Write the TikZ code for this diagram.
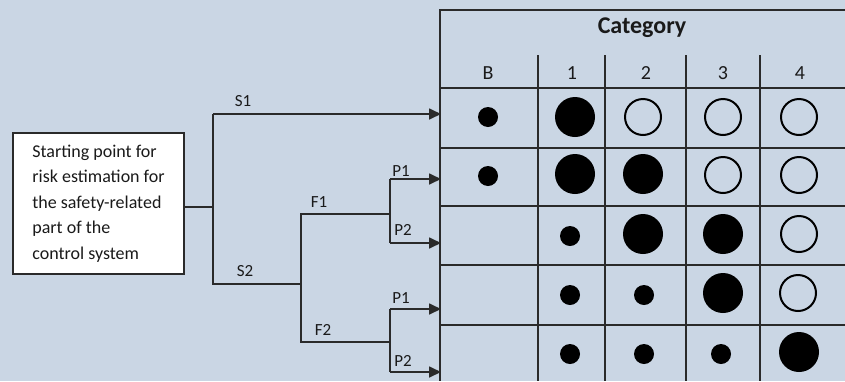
\documentclass[tikz,border=0pt]{standalone}
\usepackage{fontspec}
\setmainfont{Carlito}
\usetikzlibrary{arrows.meta}
\definecolor{bg}{HTML}{CAD6E4}
\definecolor{ln}{HTML}{2A2A2A}
\definecolor{tx}{HTML}{1A1A1A}
\begin{document}
\begin{tikzpicture}[x=1pt,y=-1pt,
  tbl/.style={draw=ln,line width=1.7pt},
  tree/.style={draw=ln,line width=1.7pt},
  arr/.style={tree,-{Triangle[length=12pt,width=11pt]},shorten >=-1pt},
  lbl/.style={font=\fontsize{17}{19}\selectfont,text=tx,inner sep=1pt},
  hd/.style={font=\fontsize{20}{22}\selectfont,text=tx,inner sep=1pt},
  sdot/.style={circle,fill=black,minimum size=20pt,inner sep=0pt},
  bdot/.style={circle,fill=black,minimum size=40pt,inner sep=0pt},
  odot/.style={circle,draw=black,line width=2pt,minimum size=36pt,inner sep=0pt},
  startbox/.style={draw=ln,line width=1.4pt,fill=white,inner xsep=17pt,minimum width=171pt,
    minimum height=141pt,align=left,text=tx,font=\fontsize{18}{25.5}\selectfont}]
\fill[bg] (0,0) rectangle (845,381);
\useasboundingbox (0,0) rectangle (845,381);
% table
\draw[tbl] (845,10) -- (440,10) -- (440,381);
\foreach \y in {88,148,206,265,325} \draw[tbl] (440,\y) -- (845,\y);
\foreach \x in {538,605,686,760} \draw[tbl] (\x,55) -- (\x,381);
\node[font=\bfseries\fontsize{24}{26}\selectfont,text=tx] (cat) at (642,28) {Category};
\node[hd] (hB) at (488,73) {B};
\node[hd] (h1) at (572,73) {1};
\node[hd] (h2) at (646,73) {2};
\node[hd] (h3) at (723,73) {3};
\node[hd] (h4) at (800,73) {4};
% row 1
\node[sdot] (r1b) at (488,117) {};
\node[bdot] (r11) at (575,117) {};
\node[odot] (r12) at (643,117) {};
\node[odot] (r13) at (723,117) {};
\node[odot] (r14) at (799,117) {};
% row 2
\node[sdot] (r2b) at (488,176) {};
\node[bdot] (r21) at (575,174) {};
\node[bdot] (r22) at (643,174) {};
\node[odot] (r23) at (723,175) {};
\node[odot] (r24) at (799,175) {};
% row 3
\node[sdot] (r31) at (570,236) {};
\node[bdot] (r32) at (643,234) {};
\node[bdot] (r33) at (723,234) {};
\node[odot] (r34) at (799,234) {};
% row 4
\node[sdot] (r41) at (570,295) {};
\node[sdot] (r42) at (644,295) {};
\node[bdot] (r43) at (723,293) {};
\node[odot] (r44) at (798,293) {};
% row 5
\node[sdot] (r51) at (570,354) {};
\node[sdot] (r52) at (644,354) {};
\node[sdot] (r53) at (721,354) {};
\node[bdot] (r54) at (799,352) {};
% start box
\node[startbox] (start) at (98.5,203.5) {Starting point for\\risk estimation for\\the safety-related\\part of the\\control system};
% tree coordinates
\coordinate (j0) at (213,207);
\coordinate (s1a) at (213,114);
\coordinate (s1e) at (440,114);
\coordinate (s2a) at (213,284);
\coordinate (s2b) at (301,284);
\coordinate (f1a) at (301,214);
\coordinate (f1b) at (390,214);
\coordinate (f2a) at (301,342);
\coordinate (f2b) at (390,342);
\coordinate (p11a) at (390,179);
\coordinate (p11e) at (440,179);
\coordinate (p12a) at (390,243);
\coordinate (p12e) at (440,243);
\coordinate (p21a) at (390,309);
\coordinate (p21e) at (440,309);
\coordinate (p22a) at (390,372);
\coordinate (p22e) at (440,372);
\draw[tree] (start.east |- j0) -- (j0);
\draw[tree] (s1a) -- (s2a) -- (s2b);
\draw[arr] (s1a) -- (s1e);
\draw[tree] (f1b) -- (f1a) -- (f2a) -- (f2b);
\draw[tree] (p11a) -- (p12a);
\draw[tree] (p21a) -- (p22a);
\draw[arr] (p11a) -- (p11e);
\draw[arr] (p12a) -- (p12e);
\draw[arr] (p21a) -- (p21e);
\draw[arr] (p22a) -- (p22e);
% labels
\node[lbl] (ls1) at (243,101) {S1};
\node[lbl] (ls2) at (245,271) {S2};
\node[lbl] (lf1) at (319,202) {F1};
\node[lbl] (lf2) at (323,330) {F2};
\node[lbl] (lp11) at (401,171) {P1};
\node[lbl] (lp12) at (403,230) {P2};
\node[lbl] (lp21) at (401,298) {P1};
\node[lbl] (lp22) at (403,361) {P2};
\end{tikzpicture}
\end{document}
